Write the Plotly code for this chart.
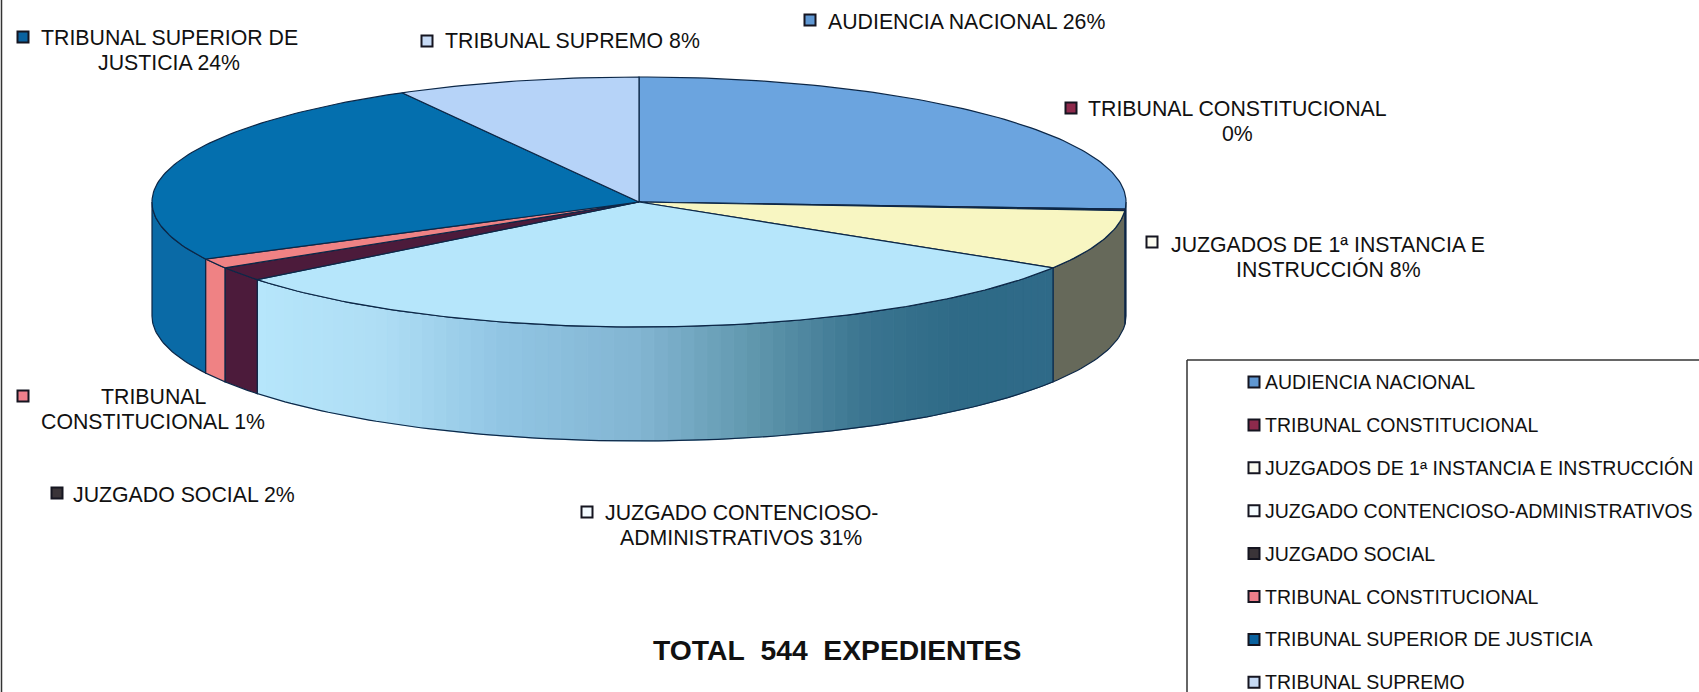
import math
import plotly.graph_objects as go

# ---------- data ----------
categories = ["AUDIENCIA NACIONAL", "TRIBUNAL CONSTITUCIONAL",
              "JUZGADOS DE 1ª INSTANCIA E INSTRUCCIÓN",
              "JUZGADO CONTENCIOSO-ADMINISTRATIVOS", "JUZGADO SOCIAL",
              "TRIBUNAL CONSTITUCIONAL", "TRIBUNAL SUPERIOR DE JUSTICIA",
              "TRIBUNAL SUPREMO"]
expedientes = [141, 1, 42, 166, 10, 7, 133, 44]
title_text = "TOTAL  544  EXPEDIENTES"

# ---------- styles ----------
W, H = 1699, 692
CX, CY, RX, RY, DEPTH = 639, 202, 487, 125, 114
top_colors = ["#6BA4DF", "#8E2A4C", "#F8F6C2", "#B6E6FB", "#4C1B3B", "#EF8284", "#046FAE", "#B6D3F8"]
wall_colors = ["#3F6F9F", "#5E1C33", "#66695A", "#B6E6FB", "#4C1B3B", "#EF8284", "#0A6AA6", "#7C98BC"]
legend_colors = ["#5F97D2", "#8E2A4C", "#FBFBF0", "#F4FBFF", "#3A3438", "#EF7F8C", "#0A629F", "#C6DAF5"]
EDGE = "#0C2747"
gradient_stops = [(0.0, "#B6E6FB"), (0.16, "#AEDDF4"), (0.30, "#92C6E4"), (0.48, "#82B5D2"),
                  (0.62, "#6198AE"), (0.76, "#3B7590"), (0.88, "#2E6A87"), (1.0, "#2F6A88")]
LABEL_FONT = dict(family="Liberation Sans, Arial", size=21.3, color="#111111")
LEGEND_FONT = dict(family="Liberation Sans, Arial", size=19.5, color="#111111")
LINE_STEP = 24.5
KEY_SIZE = 11


def pt(deg, dy=0.0):
    r = math.radians(deg)
    return CX + RX * math.sin(r), CY - RY * math.cos(r) + dy


def arc(a, b, dy=0.0, step=1.0):
    n = max(2, int(abs(b - a) / step) + 2)
    return [pt(a + (b - a) * i / (n - 1), dy) for i in range(n)]


def hex2rgb(h):
    return tuple(int(h[i:i + 2], 16) for i in (1, 3, 5))


def grad(f):
    for (f0, c0), (f1, c1) in zip(gradient_stops, gradient_stops[1:]):
        if f <= f1:
            t = (f - f0) / (f1 - f0)
            a, b = hex2rgb(c0), hex2rgb(c1)
            return "rgb(%d,%d,%d)" % tuple(round(a[i] + (b[i] - a[i]) * t) for i in range(3))
    return gradient_stops[-1][1]


def poly(points, fill, line=None, width=1.0):
    xs = [p[0] for p in points] + [points[0][0]]
    ys = [p[1] for p in points] + [points[0][1]]
    return go.Scatter(x=xs, y=ys, mode="lines", fill="toself", fillcolor=fill,
                      line=dict(color=line or fill, width=width),
                      hoverinfo="skip", showlegend=False)


total = sum(expedientes)
bounds = [0.0]
for v in expedientes:
    bounds.append(bounds[-1] + 360.0 * v / total)

fig = go.Figure()

# side walls (only the front half of the drum is visible)
for i, (a, b) in enumerate(zip(bounds, bounds[1:])):
    lo, hi = max(a, 90.0), min(b, 270.0)
    if hi <= lo:
        continue
    if categories[i].startswith("JUZGADO CONT"):
        n = 70
        x0, x1 = pt(lo)[0], pt(hi)[0]
        for k in range(n):
            s0 = lo + (hi - lo) * k / n
            s1 = lo + (hi - lo) * (k + 1) / n
            # lo is on the right of the drum, hi on the left
            f = (pt((s0 + s1) / 2)[0] - x1) / (x0 - x1)
            fig.add_trace(poly(arc(s0, s1) + arc(s1, s0, DEPTH), grad(f), width=1))
        # outline on top of strips
        outline = arc(lo, hi) + arc(hi, lo, DEPTH)
        fig.add_trace(go.Scatter(x=[p[0] for p in outline] + [outline[0][0]],
                                 y=[p[1] for p in outline] + [outline[0][1]],
                                 mode="lines", line=dict(color=EDGE, width=1.2),
                                 hoverinfo="skip", showlegend=False))
    else:
        fig.add_trace(poly(arc(lo, hi) + arc(hi, lo, DEPTH), wall_colors[i], EDGE, 1.2))

# top faces
for i, (a, b) in enumerate(zip(bounds, bounds[1:])):
    fig.add_trace(poly([(CX, CY)] + arc(a, b), top_colors[i], EDGE, 1.2))

# ---------- data-label keys and text (pixel layout) ----------
label_order = [6, 7, 0, 1, 2, 5, 4, 3]
key_pos = [(23, 37), (427, 41), (810, 20), (1071, 108), (1152, 242), (23, 396), (57, 493), (587, 512)]
text_pos = [(169, 50.5), (572, 41), (966, 22), (1237, 121.5), (1328, 257), (153, 409.7), (184, 495), (741, 525.5)]
wrap = {6: ("TRIBUNAL SUPERIOR DE", "JUSTICIA"),
        1: ("TRIBUNAL CONSTITUCIONAL", ""),
        2: ("JUZGADOS DE 1ª INSTANCIA E", "INSTRUCCIÓN"),
        5: ("TRIBUNAL", "CONSTITUCIONAL"),
        3: ("JUZGADO CONTENCIOSO-", "ADMINISTRATIVOS")}
annotations = []


def note(x, y, text, font, **kw):
    annotations.append(dict(x=x, y=y, xref="x", yref="y", text=text, showarrow=False, font=font,
                            xanchor=kw.get("xanchor", "center"), yanchor="middle", align="center"))


for idx, (kx, ky), (tx, ty) in zip(label_order, key_pos, text_pos):
    pct = "%d%%" % round(100 * expedientes[idx] / total)
    if idx in wrap:
        l1, l2 = wrap[idx]
        note(tx, ty - LINE_STEP / 2, l1, LABEL_FONT)
        note(tx, ty + LINE_STEP / 2, l2 + " " + pct if l2 else pct, LABEL_FONT)
    else:
        note(tx, ty, categories[idx] + " " + pct, LABEL_FONT)
    fig.add_trace(go.Scatter(x=[kx], y=[ky], mode="markers", hoverinfo="skip", showlegend=False,
                             marker=dict(symbol="square", size=KEY_SIZE, color=legend_colors[idx],
                                         line=dict(color="#151520", width=2))))

# ---------- legend panel ----------
LEG_X, LEG_Y0, LEG_DY = 1254, 382, 42.9
for i, cat in enumerate(categories):
    y = LEG_Y0 + i * LEG_DY
    fig.add_trace(go.Scatter(x=[LEG_X], y=[y], mode="markers", hoverinfo="skip", showlegend=False,
                             marker=dict(symbol="square", size=KEY_SIZE, color=legend_colors[i],
                                         line=dict(color="#151520", width=2))))
    note(LEG_X + 9, y, cat, LEGEND_FONT, xanchor="left")

note(837, 650, "<b>%s</b>" % title_text.replace("  ", "&nbsp;&nbsp;"),
     dict(family="Liberation Sans, Arial", size=28.3, color="#111111"))

shapes = [
    dict(type="line", x0=1.5, x1=1.5, y0=0, y1=H, xref="x", yref="y", line=dict(color="#333333", width=1.5)),
    dict(type="line", x0=1187, x1=1187, y0=360, y1=H, xref="x", yref="y", line=dict(color="#333333", width=1.5)),
    dict(type="line", x0=1187, x1=W, y0=360, y1=360, xref="x", yref="y", line=dict(color="#333333", width=1.5)),
]

fig.update_layout(width=W, height=H, margin=dict(l=0, r=0, t=0, b=0), autosize=False,
                  paper_bgcolor="white", plot_bgcolor="white", showlegend=False,
                  annotations=annotations, shapes=shapes,
                  xaxis=dict(range=[0, W], visible=False, fixedrange=True),
                  yaxis=dict(range=[H, 0], visible=False, fixedrange=True))
fig.write_html("out.html", config={"displayModeBar": False},
               post_script="document.body.style.margin='0';document.body.style.overflow='hidden';")
